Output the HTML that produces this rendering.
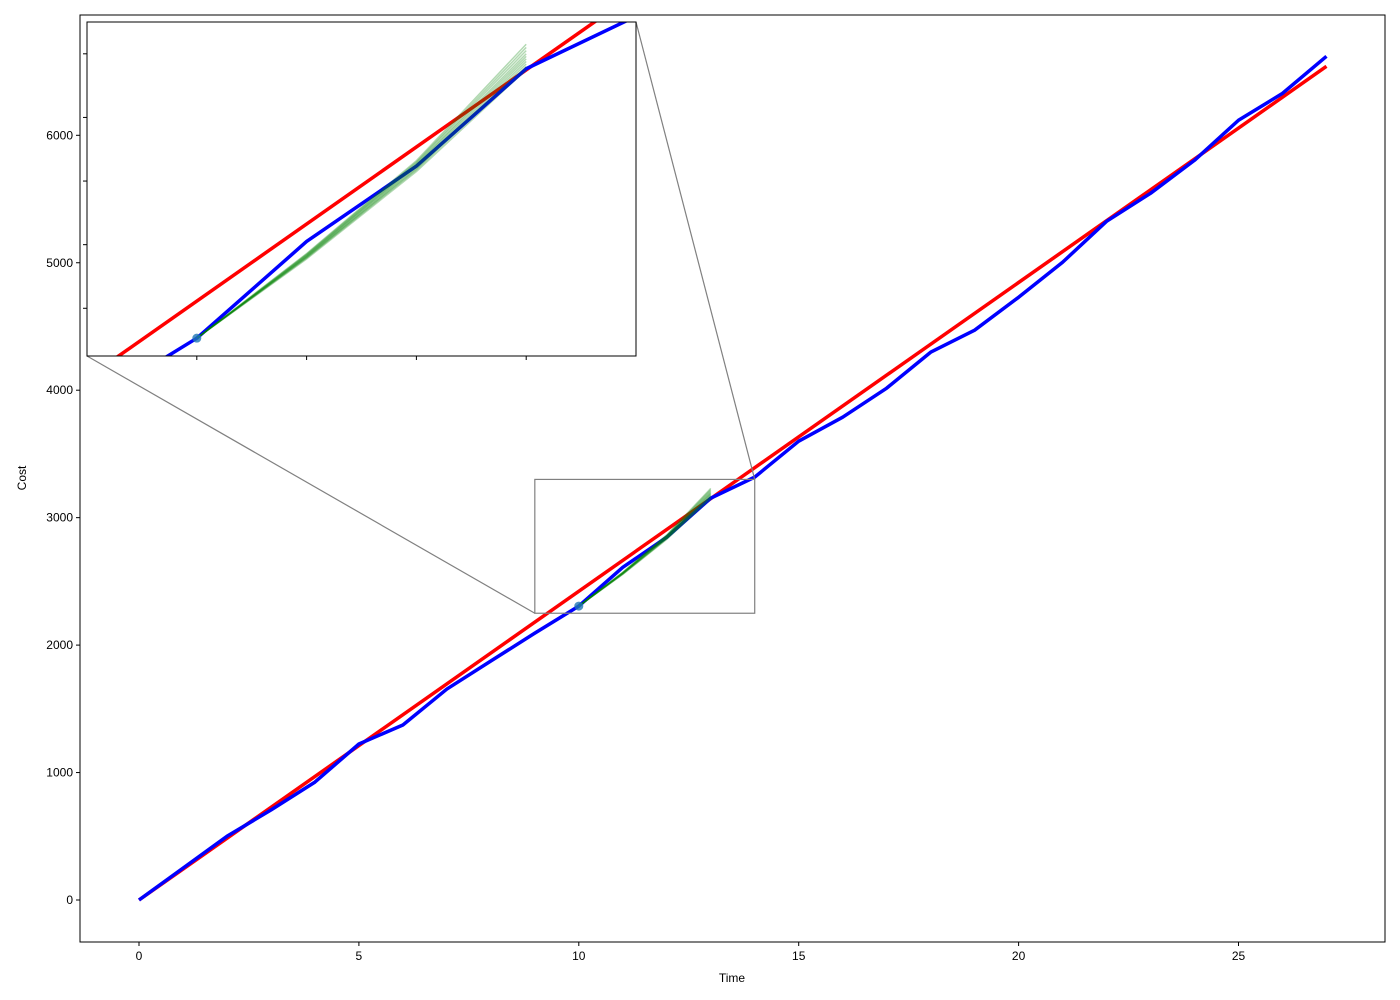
<!DOCTYPE html>
<html><head><meta charset="utf-8"><style>
html,body{margin:0;background:#fff;font-family:"Liberation Sans",sans-serif;width:1400px;height:1000px;overflow:hidden}
svg{display:block}
svg text{font-family:"Liberation Sans",sans-serif;font-size:12px;fill:#000}
</style></head><body>
<svg id="chart" width="1400" height="1000" xmlns="http://www.w3.org/2000/svg"></svg>
<script>
const times=[0,1,2,3,4,5,6,7,8,9,10,11,12,13,14,15,16,17,18,19,20,21,22,23,24,25,26,27];
const actualCost=[0,250,500,706,925,1224,1373,1655,1875,2094,2306,2610,2847,3153,3318,3600,3788,4016,4298,4471,4729,5004,5325,5545,5804,6118,6329,6620];
const trendStart=[0,0];
const trendEnd=[27,6541];
const simTimes=[10,11,12,13];
const simPaths=[
[2306,2555,2830,3150],[2306,2558,2835,3160],[2306,2560,2838,3168],[2306,2561,2842,3176],
[2306,2563,2846,3184],[2306,2565,2850,3192],[2306,2566,2853,3200],[2306,2568,2857,3210],
[2306,2570,2860,3220],[2306,2572,2864,3230]];
const markerPoint=[10,2306];
const xTicks=[0,5,10,15,20,25];
const yTicks=[0,1000,2000,3000,4000,5000,6000];
const insetXTicks=[10,11,12,13];
const insetYTicks=[2400,2600,2800,3000,3200];
const zoomX=[9,14], zoomY=[2250,3300];

const NS="http://www.w3.org/2000/svg";
const svg=document.getElementById('chart');
function el(tag,attrs,parent){const e=document.createElementNS(NS,tag);for(const k in attrs)e.setAttribute(k,attrs[k]);(parent||svg).appendChild(e);return e;}
const L=80,R=1385,T=15,B=942;
const xs=v=>139+v*43.98;
const ys=v=>900-v*0.12745;
const defs=el('defs',{});
const mc=el('clipPath',{id:'mainclip'},defs);
el('rect',{x:L,y:T,width:R-L,height:B-T},mc);
let frame=el('rect',{x:L,y:T,width:R-L,height:B-T,fill:'none',stroke:'#000','stroke-width':1});


xTicks.forEach(t=>{const x=xs(t);
 let l=el('line',{x1:x,x2:x,y1:B,y2:B+4,stroke:'#000'});
 
 
 let tx=el('text',{x:x,y:B+18,'text-anchor':'middle'});tx.textContent=t;
 
 });
yTicks.forEach(t=>{const y=ys(t);
 let l=el('line',{x1:L-4,x2:L,y1:y,y2:y,stroke:'#000'});
 
 
 let tx=el('text',{x:L-7,y:y+4,'text-anchor':'end'});tx.textContent=t;
 
 });
let xt=el('text',{x:732,y:982,'text-anchor':'middle'});xt.textContent='Time';


let yt=el('text',{x:26,y:478,'text-anchor':'middle',transform:'rotate(-90 26 478)'});yt.textContent='Cost';



function drawSeries(g,X,Y){
 let red=el('line',{x1:X(trendStart[0]),y1:Y(trendStart[1]),x2:X(trendEnd[0]),y2:Y(trendEnd[1]),stroke:'red','stroke-width':3.5},g);
 
 
 let blue=el('polyline',{points:times.map((t,i)=>X(t)+','+Y(actualCost[i])).join(' '),fill:'none',stroke:'blue','stroke-width':3.5,'stroke-linejoin':'round'},g);
 
 
 simPaths.forEach(p=>{let pl=el('polyline',{points:simTimes.map((t,i)=>X(t)+','+Y(p[i])).join(' '),fill:'none',stroke:'green','stroke-opacity':0.3,'stroke-width':1.5},g);
  
  });
 let dot=el('circle',{cx:X(markerPoint[0]),cy:Y(markerPoint[1]),r:4.5,fill:'#1f77b4','fill-opacity':0.8},g);
 
 
}
const gm=el('g',{'clip-path':'url(#mainclip)'});


drawSeries(gm,xs,ys);

const zx1=xs(zoomX[0]),zx2=xs(zoomX[1]),zy1=ys(zoomY[1]),zy2=ys(zoomY[0]);
let zb=el('rect',{x:zx1,y:zy1,width:zx2-zx1,height:zy2-zy1,fill:'none',stroke:'#808080','stroke-width':1.2});


const IL=87,IR=636,IT=22,IB=356;
let c1=el('line',{x1:IL,y1:IB,x2:zx1,y2:zy2,stroke:'#808080','stroke-width':1.2});


let c2=el('line',{x1:IR,y1:IT,x2:zx2,y2:zy1,stroke:'#808080','stroke-width':1.2});



const ixs=v=>IL+(v-zoomX[0])*(IR-IL)/(zoomX[1]-zoomX[0]);
const iys=v=>IB-(v-zoomY[0])*(IB-IT)/(zoomY[1]-zoomY[0]);
let ibg=el('rect',{x:IL,y:IT,width:IR-IL,height:IB-IT,fill:'#fff'});


const cp=el('clipPath',{id:'insetclip'},defs);
el('rect',{x:IL,y:IT,width:IR-IL,height:IB-IT},cp);
const gi=el('g',{'clip-path':'url(#insetclip)'});


drawSeries(gi,ixs,iys);
let iframe=el('rect',{x:IL,y:IT,width:IR-IL,height:IB-IT,fill:'none',stroke:'#000','stroke-width':1});


insetXTicks.forEach(t=>{let l=el('line',{x1:ixs(t),x2:ixs(t),y1:IB,y2:IB+4,stroke:'#000'});
 
 });
insetYTicks.forEach(t=>{let l=el('line',{x1:IL-4,x2:IL,y1:iys(t),y2:iys(t),stroke:'#000'});
 
 });
</script>
</body></html>
